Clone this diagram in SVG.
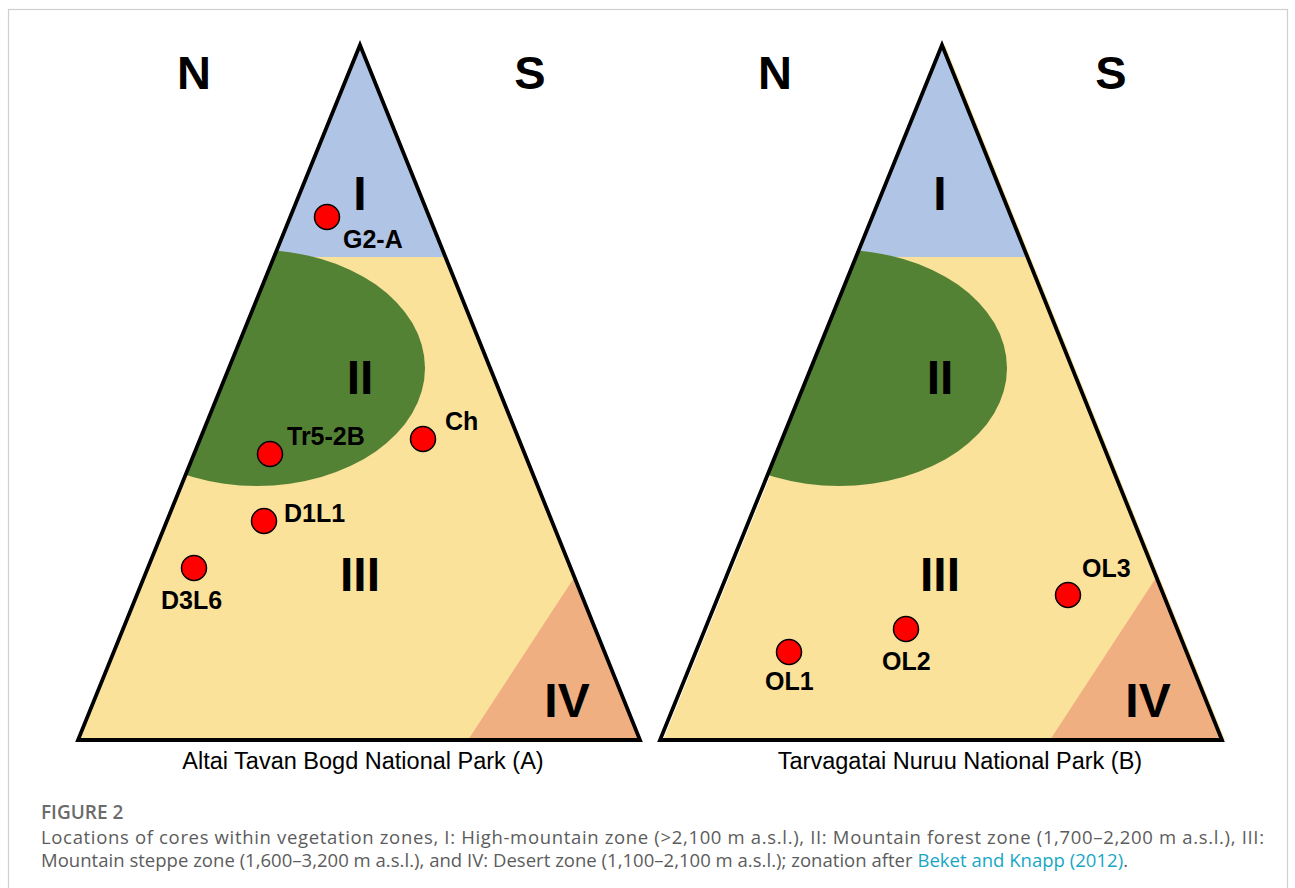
<svg xmlns="http://www.w3.org/2000/svg" width="1295" height="888" viewBox="0 0 1295 888">
  <style>
    .frame { fill: #ffffff; stroke: #cfcfcf; stroke-width: 1.2; }
    .z1 { fill: #b0c4e5; }
    .z2 { fill: #548235; }
    .z3 { fill: #fbe29b; }
    .z4 { fill: #f0af80; }
    .outline { fill: none; stroke: #000000; stroke-width: 3.8; stroke-linejoin: miter; }
    .compass { font-family: "Liberation Sans", Arial, sans-serif; font-weight: bold; font-size: 47px; fill: #000000; text-anchor: middle; }
    .roman { font-family: "Liberation Sans", Arial, sans-serif; font-weight: bold; font-size: 48px; fill: #000000; text-anchor: middle; }
    .core { fill: #ff0000; stroke: #000000; stroke-width: 1.5; }
    .lbl { font-family: "Liberation Sans", Arial, sans-serif; font-weight: bold; font-size: 25px; fill: #000000; }
    .park { font-family: "Liberation Sans", Arial, sans-serif; font-size: 23.5px; fill: #000000; text-anchor: middle; }
    .fig { font-family: "Open Sans", "Liberation Sans", sans-serif; font-weight: 600; font-size: 19px; fill: #6b6b6b; }
    .cap { font-family: "Open Sans", "Liberation Sans", sans-serif; font-size: 18.5px; fill: #5c5c5c; }
    .link { fill: #17a7c5; }
  </style>
  <defs>
    <clipPath id="tri">
      <polygon points="360,45 78,740 640,740"/>
    </clipPath>
    <!-- forest zone, shared by both panels -->
    <ellipse id="forest" cx="257" cy="368" rx="168" ry="118"/>
  </defs>

  <rect class="frame" x="8.5" y="9.5" width="1279" height="900"/>

  <!-- panel A: Altai Tavan Bogd -->
  <g id="panel-a">
    <g clip-path="url(#tri)">
      <rect class="z3" x="60" y="30" width="600" height="720"/>
      <rect class="z1" x="60" y="30" width="600" height="227"/>
      <use href="#forest" class="z2"/>
      <polygon class="z4" points="574.5,577 468,740 640,740"/>
    </g>
    <polygon class="outline" points="360,45 78,740 640,740"/>
    <text class="compass" x="194" y="89">N</text>
    <text class="compass" x="530" y="89">S</text>
    <text class="roman" x="360" y="210">I</text>
    <text class="roman" x="360" y="394">II</text>
    <text class="roman" x="360" y="591">III</text>
    <text class="roman" x="567" y="717">IV</text>
    <text class="park" x="363" y="769">Altai Tavan Bogd National Park (A)</text>
  </g>

  <!-- panel B: Tarvagatai Nuruu (fill sits slightly off its outline) -->
  <g id="panel-b" transform="translate(582,0)">
    <polygon class="z3" points="363,45 81,740 643,740"/>
    <g clip-path="url(#tri)">
      <rect class="z1" x="60" y="30" width="600" height="227"/>
      <use href="#forest" class="z2"/>
      <polygon class="z4" points="574.5,577 468,740 640,740"/>
    </g>
    <polygon class="outline" points="360,45 78,740 640,740"/>
    <text class="compass" x="193" y="89">N</text>
    <text class="compass" x="529" y="89">S</text>
    <text class="roman" x="358" y="210">I</text>
    <text class="roman" x="358" y="394">II</text>
    <text class="roman" x="358" y="591">III</text>
    <text class="roman" x="566" y="717">IV</text>
    <text class="park" x="378" y="769">Tarvagatai Nuruu National Park (B)</text>
  </g>

  <!-- core sites -->
  <g id="core-g2a"><circle class="core" cx="327" cy="217" r="12.5"/><text class="lbl" x="343" y="248">G2-A</text></g>
  <g id="core-tr52b"><circle class="core" cx="270" cy="454" r="12.5"/><text class="lbl" x="287" y="445">Tr5-2B</text></g>
  <g id="core-ch"><circle class="core" cx="423" cy="439" r="12.5"/><text class="lbl" x="445" y="430">Ch</text></g>
  <g id="core-d1l1"><circle class="core" cx="264" cy="521" r="12.5"/><text class="lbl" x="284" y="522">D1L1</text></g>
  <g id="core-d3l6"><circle class="core" cx="194" cy="568" r="12.5"/><text class="lbl" x="161" y="609">D3L6</text></g>
  <g id="core-ol1"><circle class="core" cx="789" cy="652" r="12.5"/><text class="lbl" x="765" y="690">OL1</text></g>
  <g id="core-ol2"><circle class="core" cx="906" cy="629" r="12.5"/><text class="lbl" x="882" y="670">OL2</text></g>
  <g id="core-ol3"><circle class="core" cx="1068" cy="595" r="12.5"/><text class="lbl" x="1082" y="577">OL3</text></g>

  <!-- caption -->
  <g id="caption">
    <text class="fig" x="41" y="819">FIGURE 2</text>
    <text class="cap" x="41" y="844" textLength="1223" lengthAdjust="spacing">Locations of cores within vegetation zones, I: High-mountain zone (&gt;2,100 m a.s.l.), II: Mountain forest zone (1,700–2,200 m a.s.l.), III:</text>
    <text class="cap" x="41" y="867" textLength="1087" lengthAdjust="spacing">Mountain steppe zone (1,600–3,200 m a.s.l.), and IV: Desert zone (1,100–2,100 m a.s.l.); zonation after <tspan class="link">Beket and Knapp (2012)</tspan>.</text>
  </g>
</svg>
